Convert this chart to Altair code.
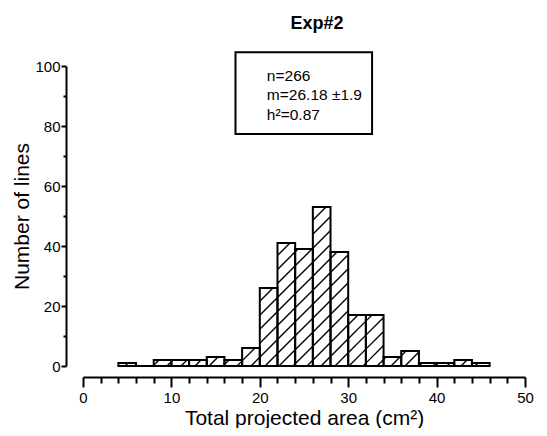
import altair as alt
import numpy as np
import pandas as pd

# ---- data ----
bin_starts = list(range(4, 46, 2))
counts = [1, 0, 2, 2, 2, 3, 2, 6, 26, 41, 39, 53, 38, 17, 17, 3, 5, 1, 1, 2, 1]
bin_width = 2
stats_lines = ["n=266", "m=26.18 \u00b11.9", "h\u00b2=0.87"]
stats_y = [95, 88.6, 82]
stats_x = [20.8, 20.8, 20.8]
box_x = [17.25]
box_x2 = [32.7]
box_y = [77.3]
box_y2 = [104.6]

W, H = 442, 300
XMAX, YMAX = 50, 100
FONT = "Liberation Sans"

bars = pd.DataFrame({
    "start": bin_starts,
    "end": [b + bin_width for b in bin_starts],
    "count": counts,
})

# hatch segments ("/" at 45 deg on screen), derived from the bar extents
sx, sy = W / XMAX, H / YMAX
d = 14.0
segs = []
for a, cnt in zip(bin_starts, counts):
    u0, u1, vh = a * sx, (a + bin_width) * sx, cnt * sy
    if vh <= 0:
        continue
    kmin = int(np.floor((u0 - vh) / d)) - 1
    kmax = int(np.ceil(u1 / d)) + 1
    for k in range(kmin, kmax + 1):
        c = k * d
        ua = max(u0, c)
        ub = min(u1, c + vh)
        if ub - ua > 0.8:
            segs.append({"start": ua / sx, "count": (ua - c) / sy,
                         "end": ub / sx, "top": (ub - c) / sy})
segs = pd.DataFrame(segs)

stats = pd.DataFrame({"start": stats_x, "count": stats_y, "t": stats_lines})
boxdf = pd.DataFrame({"start": box_x, "end": box_x2, "count": box_y, "top": box_y2})

xscale = alt.Scale(domain=[0, XMAX], nice=False, zero=False)
yscale = alt.Scale(domain=[0, YMAX], nice=False, zero=False)

xaxis = alt.Axis(
    values=list(range(0, 51, 2)),
    labelExpr="datum.value % 10 === 0 ? datum.label : ''",
    tickSize={"condition": {"test": "datum.value % 10 === 0", "value": 10}, "value": 6},
    offset=11, grid=False, domainWidth=2, tickWidth=2,
    domainColor="black", tickColor="black", labelColor="black",
    labelFontSize=15, labelFont=FONT, labelPadding=3, labelFlush=False,
    title="Total projected area (cm\u00b2)", titleFontSize=21, titleFont=FONT,
    titleFontWeight="normal", titleColor="black", titlePadding=2,
)
yaxis = alt.Axis(
    values=list(range(0, 101, 10)),
    labelExpr="datum.value % 20 === 0 ? datum.label : ''",
    tickSize={"condition": {"test": "datum.value % 20 === 0", "value": 5}, "value": 3},
    offset=17, grid=False, domainWidth=2, tickWidth=2,
    domainColor="black", tickColor="black", labelColor="black",
    labelFontSize=15, labelFont=FONT, labelPadding=1, labelFlush=False,
    title="Number of lines", titleFontSize=21, titleFont=FONT,
    titleFontWeight="normal", titleColor="black", titlePadding=2,
)

X = alt.X("start:Q", scale=xscale, axis=xaxis)
Y = alt.Y("count:Q", scale=yscale, axis=yaxis)

base_bars = alt.Chart(bars).mark_rect(fill="white", strokeWidth=0).encode(
    x=X, x2="end:Q", y=Y, y2=alt.datum(0),
)

hatch = alt.Chart(segs).mark_rule(color="black", strokeWidth=1.4).encode(
    x=X, y=Y, x2="end:Q", y2="top:Q",
)

outline = alt.Chart(bars).mark_rect(
    fill="transparent", stroke="black", strokeWidth=2
).encode(
    x=X, x2="end:Q", y=Y, y2=alt.datum(0),
)

box = alt.Chart(boxdf).mark_rect(fill="white", stroke="black", strokeWidth=2).encode(
    x=X, x2="end:Q", y=Y, y2="top:Q",
)

text = alt.Chart(stats).mark_text(
    align="left", baseline="alphabetic", fontSize=15.5, font=FONT, color="black"
).encode(
    x=X, y=Y, text="t:N",
)

chart = alt.layer(base_bars, hatch, outline, box, text).properties(
    width=W,
    height=H,
    title=alt.TitleParams("Exp#2", fontSize=18, fontWeight="bold", font=FONT,
                          color="black", anchor="middle", dx=13, dy=-14),
    padding={"left": 75, "top": 58, "right": 14, "bottom": 62},
    autosize="none",
    background="white",
).configure_view(strokeWidth=0)

chart.save("out.html", embed_options={"renderer": "svg", "actions": False})
